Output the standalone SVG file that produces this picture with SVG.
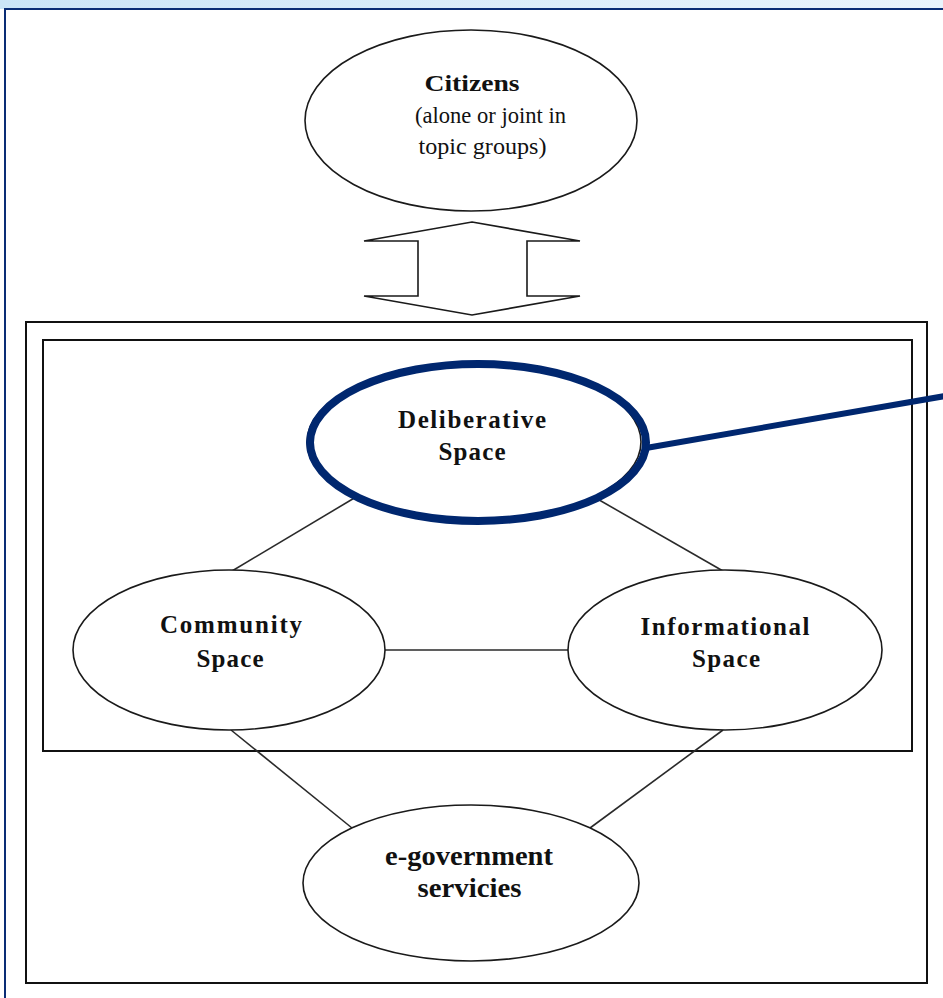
<svg xmlns="http://www.w3.org/2000/svg" width="943" height="998" viewBox="0 0 943 998">
<defs>
<linearGradient id="band" x1="0" y1="0" x2="1" y2="0">
<stop offset="0" stop-color="#cbe5f7"/>
<stop offset="1" stop-color="#e9f4fc"/>
</linearGradient>
</defs>
<style>
.shape{fill:#fff;stroke:#1a1a1a;stroke-width:1.6}
.frame{fill:none;stroke:#111;stroke-width:2}
.conn{stroke:#2a2a2a;stroke-width:1.6;fill:none}
.lbl{font-family:"Liberation Serif","Times New Roman",serif;font-weight:bold;font-size:25px;fill:#111;text-anchor:middle}
.reg{font-family:"Liberation Serif","Times New Roman",serif;font-size:23px;fill:#111;text-anchor:middle}
.navy{stroke:#00276f;fill:none}
</style>
<rect x="0" y="0" width="943" height="998" fill="#ffffff"/>
<rect x="0" y="0" width="943" height="9" fill="url(#band)"/>
<rect x="5" y="9" width="945" height="995" fill="#ffffff" stroke="#0a2d75" stroke-width="2"/>

<g id="containers">
<rect class="frame" x="26" y="322" width="901" height="661"/>
<rect class="frame" x="43" y="340" width="869" height="411"/>
</g>

<g id="connectors">
<line class="conn" x1="232" y1="571" x2="356" y2="497"/>
<line class="conn" x1="723" y1="571" x2="594" y2="497"/>
<line class="conn" x1="385" y1="650" x2="568" y2="650"/>
<line class="conn" x1="231" y1="730" x2="352" y2="828"/>
<line class="conn" x1="723" y1="730" x2="590" y2="828"/>
<polygon class="shape" points="472,222 580,241 527,241 527,296 580,296 472,315 364,296 418,296 418,241 364,241"/>
</g>

<g id="citizens">
<ellipse class="shape" cx="471" cy="120.5" rx="166" ry="90.5"/>
<text class="lbl" x="472" y="91" style="font-size:24px" textLength="95" lengthAdjust="spacingAndGlyphs">Citizens</text>
<text class="reg" x="490.5" y="123" textLength="151" lengthAdjust="spacingAndGlyphs">(alone or joint in</text>
<text class="reg" x="482.5" y="154" textLength="128" lengthAdjust="spacingAndGlyphs">topic groups)</text>
</g>

<g id="deliberative">
<ellipse class="shape" cx="474" cy="442" rx="167" ry="79"/>
<text class="lbl" x="472" y="428" textLength="148" lengthAdjust="spacing">Deliberative</text>
<text class="lbl" x="472" y="460" textLength="67" lengthAdjust="spacing">Space</text>
</g>

<g id="community">
<ellipse class="shape" cx="229" cy="650" rx="156" ry="80"/>
<text class="lbl" x="231" y="633" textLength="142" lengthAdjust="spacing">Community</text>
<text class="lbl" x="230" y="666.5" textLength="67" lengthAdjust="spacing">Space</text>
</g>

<g id="informational">
<ellipse class="shape" cx="725" cy="650" rx="157" ry="80"/>
<text class="lbl" x="725" y="635" textLength="169" lengthAdjust="spacing">Informational</text>
<text class="lbl" x="726" y="666.5" textLength="68" lengthAdjust="spacing">Space</text>
</g>

<g id="egovernment">
<ellipse class="shape" cx="471" cy="883" rx="168" ry="78"/>
<text class="lbl" x="469" y="865" style="font-size:27px" textLength="168" lengthAdjust="spacingAndGlyphs">e-government</text>
<text class="lbl" x="469.5" y="896.5" style="font-size:27px" textLength="104" lengthAdjust="spacingAndGlyphs">servicies</text>
</g>

<g id="highlight">
<ellipse class="navy" cx="478" cy="442.5" rx="168" ry="78.5" stroke-width="8"/>
<line class="navy" x1="646" y1="448" x2="945" y2="396" stroke-width="6"/>
</g>
</svg>
